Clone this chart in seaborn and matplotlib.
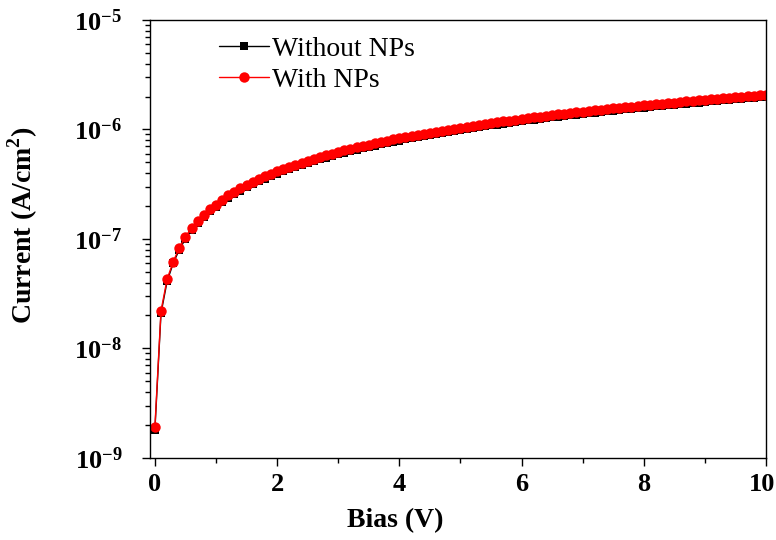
import matplotlib
matplotlib.use("Agg")
import matplotlib.pyplot as plt
import matplotlib.ticker as mticker
import matplotlib.transforms as mtransforms
import numpy as np
import pandas as pd
import seaborn as sns

# bias sweep 0..10 V in 0.1 V steps
bias = np.linspace(0, 10, 101)

# current density, in units of 1e-7 A/cm^2
without_np = [
    0.018, 0.21, 0.41, 0.60, 0.80, 1.00, 1.21, 1.39, 1.59, 1.79, 1.97,
    2.18, 2.38, 2.57, 2.77, 2.97, 3.17, 3.37, 3.56, 3.76, 3.96,
    4.16, 4.36, 4.55, 4.75, 4.95, 5.15, 5.35, 5.54, 5.74, 5.94,
    6.14, 6.34, 6.53, 6.73, 6.93, 7.13, 7.33, 7.52, 7.72, 7.92,
    8.12, 8.32, 8.51, 8.71, 8.91, 9.11, 9.31, 9.50, 9.70, 9.90,
    10.10, 10.30, 10.49, 10.69, 10.89, 11.09, 11.29, 11.48, 11.68, 11.88,
    12.08, 12.28, 12.47, 12.67, 12.87, 13.07, 13.27, 13.46, 13.66, 13.86,
    14.06, 14.26, 14.45, 14.65, 14.85, 15.05, 15.25, 15.44, 15.64, 15.84,
    16.04, 16.24, 16.43, 16.63, 16.83, 17.03, 17.23, 17.42, 17.62, 17.82,
    18.02, 18.22, 18.41, 18.61, 18.81, 19.01, 19.21, 19.40, 19.60, 19.80,
]
with_np = [
    0.019, 0.22, 0.43, 0.62, 0.83, 1.05, 1.26, 1.45, 1.66, 1.87, 2.06,
    2.29, 2.50, 2.71, 2.91, 3.12, 3.33, 3.54, 3.74, 3.95, 4.16,
    4.37, 4.58, 4.78, 4.99, 5.20, 5.41, 5.62, 5.82, 6.03, 6.24,
    6.45, 6.65, 6.86, 7.07, 7.28, 7.48, 7.69, 7.90, 8.11, 8.32,
    8.52, 8.73, 8.94, 9.15, 9.36, 9.56, 9.77, 9.98, 10.19, 10.40,
    10.60, 10.81, 11.02, 11.22, 11.43, 11.64, 11.85, 12.06, 12.26, 12.47,
    12.67, 12.88, 13.09, 13.30, 13.50, 13.71, 13.92, 14.12, 14.33, 14.54,
    14.74, 14.95, 15.16, 15.37, 15.57, 15.78, 15.98, 16.19, 16.40, 16.60,
    16.81, 17.02, 17.22, 17.43, 17.63, 17.84, 18.05, 18.25, 18.46, 18.66,
    18.87, 19.08, 19.28, 19.49, 19.69, 19.90, 20.10, 20.31, 20.51, 20.72,
]
UNIT = 1e-7

yticks = [1e-9, 1e-8, 1e-7, 1e-6, 1e-5]
xticks = [0, 2, 4, 6, 8, 10]


def main():
    sns.set_style("ticks")
    plt.rcParams["font.family"] = ["Liberation Serif", "DejaVu Serif"]
    plt.rcParams["mathtext.fontset"] = "custom"
    plt.rcParams["mathtext.rm"] = "Liberation Serif"
    plt.rcParams["mathtext.bf"] = "Liberation Serif:bold"
    for key in ["text.color", "axes.labelcolor", "xtick.color", "ytick.color"]:
        plt.rcParams[key] = "black"

    df = pd.DataFrame({
        "bias": bias,
        "without": np.array(without_np) * UNIT,
        "with": np.array(with_np) * UNIT,
    })

    fig = plt.figure(figsize=(7.76, 5.4), dpi=100)
    ax = fig.add_axes([0.1933, 0.152, 0.7937, 0.811])

    sns.lineplot(data=df, x="bias", y="without", ax=ax, color="black",
                 marker="s", markersize=6, markeredgewidth=0, linewidth=1,
                 label="Without NPs")
    sns.lineplot(data=df, x="bias", y="with", ax=ax, color="red",
                 marker="o", markersize=7.5, markeredgewidth=0, linewidth=1,
                 label="With NPs")

    ax.set_yscale("log")
    ax.set_ylim(1e-9, 1e-5)
    ax.set_xlim(-0.08, 10)
    ax.set_yticks(yticks)
    ax.yaxis.set_major_formatter(mticker.FuncFormatter(
        lambda v, p: r"$\mathbf{10^{%d}}$" % round(np.log10(v))))
    ax.yaxis.set_minor_locator(mticker.LogLocator(base=10, subs=range(2, 10), numticks=20))
    ax.yaxis.set_minor_formatter(mticker.NullFormatter())
    ax.set_xticks(xticks)
    ax.xaxis.set_minor_locator(mticker.MultipleLocator(1))

    ax.tick_params(axis="both", which="major", direction="out", length=6,
                   width=1, labelsize=19, colors="black")
    ax.tick_params(axis="both", which="minor", direction="out", length=3.5,
                   width=1)
    ax.tick_params(axis="y", which="major", pad=14)
    ax.tick_params(axis="x", which="major", pad=5)
    xlabels = ax.get_xticklabels()
    for lab in xlabels:
        lab.set_fontweight("bold")
    # keep the last label inside the canvas
    shift = mtransforms.ScaledTranslation(-4 / 100, 0, fig.dpi_scale_trans)
    xlabels[-1].set_transform(xlabels[-1].get_transform() + shift)
    for s in ax.spines.values():
        s.set_visible(True)
        s.set_color("black")
        s.set_linewidth(1)

    ax.set_xlabel("Bias (V)", fontsize=20, fontweight="bold")
    ax.set_ylabel(r"Current (A/cm$^\mathbf{2}$)", fontsize=20, fontweight="bold")
    ax.xaxis.set_label_coords(0.398, -0.115)
    ax.yaxis.set_label_coords(-0.179, 0.532)

    ax.legend(loc="upper left", bbox_to_anchor=(0.085, 1.0), frameon=False,
              fontsize=20, handlelength=1.8, handletextpad=0.1,
              labelspacing=0.2, borderpad=0.1)

    plt.savefig("out.png", dpi=100)
    plt.close()


if __name__ == "__main__":
    main()
